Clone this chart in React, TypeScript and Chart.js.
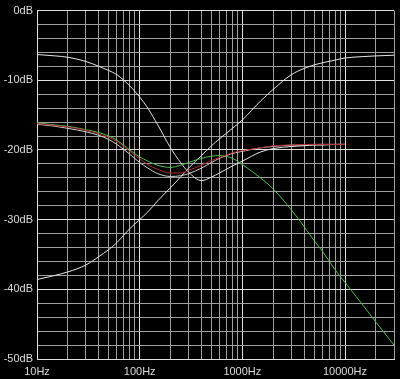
import { useEffect, useRef } from 'react';
import { Chart, registerables } from 'chart.js';

Chart.register(...registerables);

const FREQS = [10, 15, 20, 30, 40, 50, 60, 80, 100, 120, 150, 200, 250, 300, 400, 500, 600, 800, 1000, 1500, 2000, 3000, 4000, 5000, 6000, 8000, 10000, 15000, 20000, 30000];

// White curve with the mid dip (dB)
const WHITE_DIP = [-6.3, -6.5, -6.7, -7.3, -8.0, -8.6, -9.2, -10.8, -12.4, -14.0, -16.4, -19.7, -21.8, -23.2, -24.4, -23.9, -23.3, -22.3, -21.6, -20.3, -19.8, -19.5, -19.4, -19.3, -19.3, -19.2, -19.2, null, null, null];
// White rising curve (dB)
const WHITE_RISE = [-38.6, -38.0, -37.5, -36.5, -35.3, -34.3, -33.3, -31.3, -30.0, -28.9, -27.3, -25.4, -23.9, -22.6, -20.8, -19.4, -18.4, -16.9, -15.7, -13.0, -11.3, -9.2, -8.3, -7.8, -7.5, -7.1, -6.8, -6.6, -6.5, -6.4];
// Grey-white curve close to the red one (dB)
const WHITE_LOW = [-16.3, -16.6, -16.9, -17.4, -17.9, -18.5, -19.2, -20.6, -21.8, -22.6, -23.4, -23.8, -23.7, -23.4, -22.6, -21.8, -21.2, -20.5, -20.2, -19.7, -19.5, -19.3, -19.3, -19.2, -19.2, -19.2, -19.2, null, null, null];
// Red curve (dB)
const RED = [-16.2, -16.5, -16.7, -17.2, -17.7, -18.2, -18.8, -20.2, -21.3, -22.1, -22.8, -23.3, -23.3, -22.9, -22.2, -21.5, -21.1, -20.4, -20.1, -19.7, -19.4, -19.3, -19.2, -19.2, -19.2, -19.2, -19.2, null, null, null];
// Green curve (dB)
const GREEN = [-16.1, -16.4, -16.6, -17.1, -17.5, -18.0, -18.6, -20.0, -21.0, -21.6, -22.2, -22.5, -22.2, -21.8, -21.2, -20.9, -20.8, -21.2, -22.1, -24.0, -25.6, -28.6, -31.0, -33.0, -34.5, -37.2, -39.0, -42.3, -44.7, -48.0];

// Axes
const X_MIN = 10;
const X_MAX = 30000;
const X_GRID = [10, 20, 30, 40, 50, 60, 70, 80, 90, 100, 200, 300, 400, 500, 600, 700, 800, 900, 1000, 2000, 3000, 4000, 5000, 6000, 7000, 8000, 9000, 10000, 20000, 30000];
const Y_MIN = -50;
const Y_MAX = 0;
const Y_STEP = 2;

const MAJOR = '#e0e0e0';
const MINOR = '#a0a0a0';
const TEXT = '#dcdcdc';
const FONT = { family: '"Liberation Sans", Arial, sans-serif', size: 11 };

const toPoints = (vals: (number | null)[]) =>
  FREQS.map((f, i) => ({ x: f, y: vals[i] })).filter((p) => p.y !== null) as { x: number; y: number }[];

const isDecade = (v: number) => Math.abs(Math.log10(v) - Math.round(Math.log10(v))) < 1e-6;

export default function App() {
  const ref = useRef<HTMLCanvasElement>(null);

  useEffect(() => {
    if (!ref.current) return;
    const mk = (label: string, vals: (number | null)[], color: string, order: number) => ({
      label,
      data: toPoints(vals),
      borderColor: color,
      backgroundColor: color,
      borderWidth: 1,
      pointRadius: 0,
      fill: false,
      cubicInterpolationMode: 'monotone' as const,
      order,
    });
    const chart = new Chart(ref.current, {
      type: 'line',
      data: {
        datasets: [
          mk('red', RED, '#b02a2a', 0),
          mk('green', GREEN, '#4cc24c', 1),
          mk('whiteLow', WHITE_LOW, '#d0d0d0', 2),
          mk('whiteDip', WHITE_DIP, '#e6e6e6', 3),
          mk('whiteRise', WHITE_RISE, '#e6e6e6', 4),
        ],
      },
      options: {
        animation: false,
        responsive: false,
        devicePixelRatio: 1,
        events: [],
        layout: { padding: { top: 7, right: 3, left: 0, bottom: 0 } },
        plugins: { legend: { display: false }, tooltip: { enabled: false } },
        scales: {
          x: {
            type: 'logarithmic',
            min: X_MIN,
            max: X_MAX,
            afterBuildTicks: (s: any) => {
              s.ticks = X_GRID.map((v) => ({ value: v }));
            },
            afterFit: (s: any) => {
              s.height = 20;
            },
            ticks: {
              autoSkip: false,
              maxRotation: 0,
              minRotation: 0,
              padding: 6,
              color: TEXT,
              font: FONT,
              callback: (v: any) => (isDecade(Number(v)) ? `${Number(v)}Hz` : ''),
            },
            grid: {
              drawTicks: false,
              lineWidth: 1,
              color: (ctx: any) => (ctx.tick && isDecade(ctx.tick.value) ? MAJOR : MINOR),
            },
            border: { display: true, color: MAJOR, width: 1 },
          },
          y: {
            type: 'linear',
            min: Y_MIN,
            max: Y_MAX,
            afterFit: (s: any) => {
              s.width = 37;
            },
            ticks: {
              stepSize: Y_STEP,
              autoSkip: false,
              padding: 4,
              color: TEXT,
              font: FONT,
              callback: (v: any) => (Number(v) % 10 === 0 ? `${Number(v)}dB` : ''),
            },
            grid: {
              drawTicks: false,
              lineWidth: 1,
              color: (ctx: any) => (ctx.tick && ctx.tick.value % 10 === 0 ? MAJOR : MINOR),
            },
            border: { display: true, color: MAJOR, width: 1 },
          },
        },
      },
    });
    return () => chart.destroy();
  }, []);

  return (
    <div style={{ position: 'fixed', left: 0, top: 0, width: 400, height: 379, background: '#000' }}>
      <canvas ref={ref} width={400} height={379} style={{ display: 'block', width: 400, height: 379 }} />
    </div>
  );
}
